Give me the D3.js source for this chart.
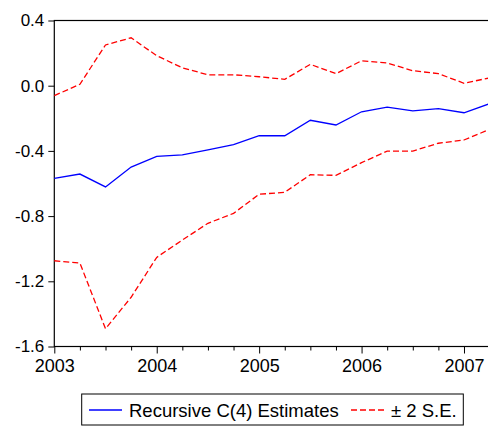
<!DOCTYPE html>
<html>
<head>
<meta charset="utf-8">
<script src="https://cdn.jsdelivr.net/npm/d3@7"></script>
<style>
  html, body { margin: 0; padding: 0; background: #fff; }
  svg { display: block; font-family: "Liberation Sans", Arial, sans-serif; }
</style>
</head>
<body>
<svg id="chart" width="488" height="428"></svg>
<script>
// Quarterly observations, 2003Q1 .. 2007Q2
const quarters = ["2003Q1","2003Q2","2003Q3","2003Q4","2004Q1","2004Q2","2004Q3","2004Q4",
                  "2005Q1","2005Q2","2005Q3","2005Q4","2006Q1","2006Q2","2006Q3","2006Q4",
                  "2007Q1","2007Q2"];
const estimates = [-0.568, -0.542, -0.621, -0.499, -0.433, -0.425, -0.394, -0.362,
                   -0.307, -0.307, -0.212, -0.241, -0.160, -0.131, -0.155, -0.141,
                   -0.166, -0.110];
const upperBand = [-0.061, 0.009, 0.250, 0.294, 0.184, 0.110, 0.067, 0.067,
                    0.055, 0.039, 0.131, 0.074, 0.153, 0.139, 0.092, 0.074,
                    0.015, 0.048];
const lowerBand = [-1.074, -1.088, -1.491, -1.298, -1.053, -0.947, -0.844, -0.783,
                   -0.666, -0.654, -0.546, -0.550, -0.472, -0.401, -0.401, -0.353,
                   -0.333, -0.268];
const yTicks = [0.4, 0.0, -0.4, -0.8, -1.2, -1.6];
const yearLabels = ["2003", "2004", "2005", "2006", "2007"];
const legendLabels = ["Recursive C(4) Estimates", "\u00B1 2 S.E."];

const svg = d3.select("#chart");
const plotLeft = 54.3, plotRight = 489.6, plotTop = 20.5, plotBottom = 346.5;

const x = d3.scaleLinear().domain([0, quarters.length - 1]).range([plotLeft, plotRight]);
const y = d3.scaleLinear().domain([-1.6, 0.4]).range([plotBottom, plotTop]);

// frame
svg.append("rect")
  .attr("x", plotLeft).attr("y", plotTop)
  .attr("width", plotRight - plotLeft).attr("height", plotBottom - plotTop)
  .attr("fill", "none").attr("stroke", "#000").attr("stroke-width", 1.2);

// y axis
const yAxis = d3.axisLeft(y).tickValues(yTicks).tickSize(6).tickPadding(4)
  .tickFormat(d => d3.format(".1f")(d).replace("\u2212", "-"));
const gy = svg.append("g").attr("transform", `translate(${plotLeft},0)`).call(yAxis);
gy.select(".domain").remove();
gy.selectAll(".tick line").attr("stroke", "#000");
gy.selectAll(".tick text").attr("font-size", 17).attr("fill", "#000")
  .attr("font-family", "Liberation Sans, Arial, sans-serif");

// x axis: minor quarterly ticks, major ticks at year starts
const idx = d3.range(quarters.length);
const xMinor = d3.axisBottom(x).tickValues(idx.filter(i => i % 4 !== 0)).tickSize(4).tickFormat("");
const gxm = svg.append("g").attr("transform", `translate(0,${plotBottom})`).call(xMinor);
gxm.select(".domain").remove();
gxm.selectAll(".tick line").attr("stroke", "#000");

const majorIdx = idx.filter(i => i % 4 === 0);
const xMajor = d3.axisBottom(x).tickValues(majorIdx).tickSize(7).tickPadding(6)
  .tickFormat(i => yearLabels[i / 4]);
const gx = svg.append("g").attr("transform", `translate(0,${plotBottom})`).call(xMajor);
gx.select(".domain").remove();
gx.selectAll(".tick line").attr("stroke", "#000");
gx.selectAll(".tick text").attr("font-size", 18).attr("fill", "#000")
  .attr("font-family", "Liberation Sans, Arial, sans-serif");

// series
const line = d3.line().x((d, i) => x(i)).y(d => y(d));
svg.append("path").datum(upperBand).attr("d", line)
  .attr("fill", "none").attr("stroke", "#ff0000").attr("stroke-width", 1.3)
  .attr("stroke-dasharray", "6,3");
svg.append("path").datum(lowerBand).attr("d", line)
  .attr("fill", "none").attr("stroke", "#ff0000").attr("stroke-width", 1.3)
  .attr("stroke-dasharray", "6,3");
svg.append("path").datum(estimates).attr("d", line)
  .attr("fill", "none").attr("stroke", "#0000ff").attr("stroke-width", 1.3);

// legend
const lg = svg.append("g");
lg.append("rect").attr("x", 81.7).attr("y", 394).attr("width", 381.6).attr("height", 31)
  .attr("fill", "#fff").attr("stroke", "#000").attr("stroke-width", 1);
lg.append("line").attr("x1", 89).attr("x2", 122).attr("y1", 410).attr("y2", 410)
  .attr("stroke", "#0000ff").attr("stroke-width", 1.3);
lg.append("text").attr("x", 129).attr("y", 416.5).attr("font-size", 18.5).attr("fill", "#000")
  .text(legendLabels[0]);
lg.append("line").attr("x1", 351).attr("x2", 385).attr("y1", 410).attr("y2", 410)
  .attr("stroke", "#ff0000").attr("stroke-width", 1.3).attr("stroke-dasharray", "6,3");
lg.append("text").attr("x", 391).attr("y", 416.5).attr("font-size", 18.5).attr("fill", "#000")
  .text(legendLabels[1]);
</script>
</body>
</html>
